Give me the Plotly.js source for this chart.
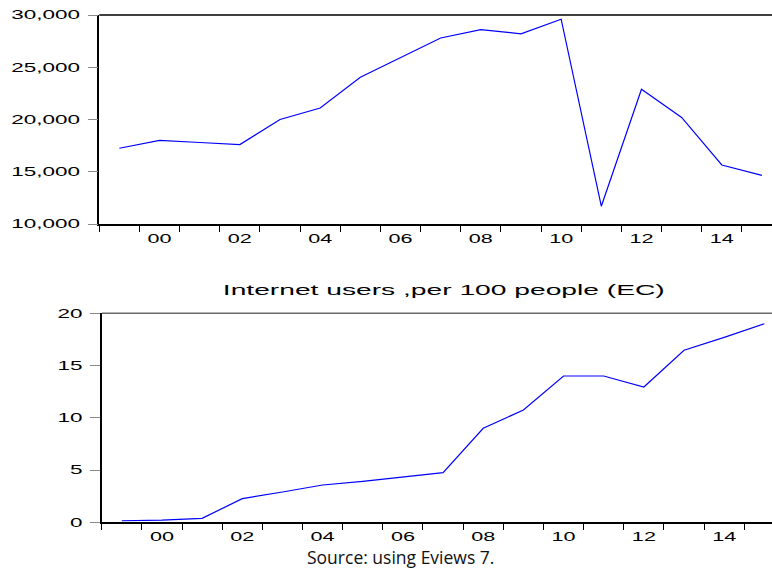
<!DOCTYPE html>
<html>
<head>
<meta charset="utf-8">
<script src="https://cdn.plot.ly/plotly-3.0.1.min.js"></script>
<style>
  html, body { margin: 0; padding: 0; background: #ffffff; }
  #chart { width: 772px; height: 568px; }
</style>
</head>
<body>
<div id="chart"></div>
<script>
// ---- data ----
var years = [1999, 2000, 2001, 2002, 2003, 2004, 2005, 2006, 2007, 2008, 2009, 2010, 2011, 2012, 2013, 2014, 2015];
var topSeries = [17250, 18000, 17800, 17600, 20000, 21100, 24050, 25900, 27800, 28600, 28200, 29600, 11700, 22900, 20200, 15650, 14650];
var internetUsers = [0.15, 0.2, 0.38, 2.26, 2.9, 3.57, 3.92, 4.3, 4.75, 9.0, 10.75, 14.0, 14.0, 12.95, 16.46, 17.7, 19.0];
var xTickYears = [2000, 2002, 2004, 2006, 2008, 2010, 2012, 2014];
var xTickLabels = ['00', '02', '04', '06', '08', '10', '12', '14'];
var topYTicks = [10000, 15000, 20000, 25000, 30000];
var bottomYTicks = [0, 5, 10, 15, 20];
var bottomTitle = 'Internet users ,per 100 people (EC)';
var sourceNote = 'Source: using Eviews 7.';

// year boundaries for the small tick marks
var boundaries = [years[0] - 0.5].concat(years.map(function (y) { return y + 0.5; }));

var W = 772, H = 568;
var tickFont = { family: 'Liberation Sans, Arial, sans-serif', size: 12.5, color: '#000000' };

function xAxisDef(domainLeft, rangeEnd, anchor) {
  return {
    domain: [domainLeft / W, 1],
    anchor: anchor,
    range: [years[0] - 0.5, rangeEnd],
    tickmode: 'array',
    tickvals: xTickYears,
    ticktext: xTickLabels,
    ticks: '',
    tickfont: { family: tickFont.family, size: 12, color: '#000000' },
    ticklabelstandoff: 3,
    showline: true,
    linecolor: '#000000',
    linewidth: 1.5,
    showgrid: false,
    zeroline: false,
    minor: {
      tickmode: 'array',
      tickvals: boundaries,
      ticks: 'outside',
      ticklen: 6,
      tickwidth: 1.2,
      tickcolor: '#000000',
      showgrid: false
    }
  };
}

function yAxisDef(top, bottom, range, tickvals, anchor, fmt) {
  return {
    domain: [1 - bottom / H, 1 - top / H],
    anchor: anchor,
    range: range,
    tickmode: 'array',
    tickvals: tickvals,
    tickformat: fmt,
    ticks: 'outside',
    ticklen: 10,
    tickwidth: 1.2,
    tickcolor: '#8a8a8a',
    tickfont: tickFont,
    ticklabelstandoff: 5,
    showline: true,
    linecolor: '#000000',
    linewidth: 1.5,
    showgrid: false,
    zeroline: false
  };
}

var data = [
  {
    x: years, y: topSeries, type: 'scatter', mode: 'lines',
    xaxis: 'x', yaxis: 'y',
    line: { color: '#0000ff', width: 1.2 },
    hoverinfo: 'x+y'
  },
  {
    x: years, y: internetUsers, type: 'scatter', mode: 'lines',
    xaxis: 'x2', yaxis: 'y2',
    line: { color: '#0000ff', width: 1.2 },
    hoverinfo: 'x+y'
  }
];

var layout = {
  width: W, height: H,
  autosize: false,
  margin: { l: 0, r: 0, t: 0, b: 0, pad: 0 },
  paper_bgcolor: '#ffffff',
  plot_bgcolor: '#ffffff',
  showlegend: false,
  separators: '.,',
  title: {
    text: bottomTitle,
    x: 443.8 / W, xref: 'paper', xanchor: 'center',
    y: 1 - 289.5 / H, yref: 'paper', yanchor: 'middle',
    font: { family: 'Liberation Sans, Arial, sans-serif', size: 15, color: '#000000' }
  },
  xaxis: xAxisDef(99.3, 2015.25, 'y'),
  yaxis: yAxisDef(15, 224, [10000, 30000], topYTicks, 'x', ','),
  xaxis2: xAxisDef(101.7, 2015.19, 'y2'),
  yaxis2: yAxisDef(313.3, 522.3, [0, 20], bottomYTicks, 'x2', 'd'),
  shapes: [
    { type: 'line', xref: 'x domain', yref: 'y domain', x0: 0, x1: 1, y0: 1, y1: 1,
      line: { color: '#000000', width: 1.5 } },
    { type: 'line', xref: 'x2 domain', yref: 'y2 domain', x0: 0, x1: 1, y0: 1, y1: 1,
      line: { color: '#6a6a6a', width: 1.5 } }
  ],
  annotations: [
    {
      text: sourceNote, showarrow: false,
      xref: 'paper', yref: 'paper',
      x: 401 / W, y: 1 - 557 / H, xanchor: 'center', yanchor: 'middle',
      font: { family: 'Open Sans, Noto Sans, sans-serif', size: 17.5, color: '#111111' }
    }
  ]
};

// horizontally widen the axis texts (the reference glyphs are stretched)
function stretchText(gd) {
  var groups = [
    ['.xtick text, .x2tick text', 1.8],
    ['.ytick text, .y2tick text', 1.8],
    ['.gtitle', 1.88]
  ];
  groups.forEach(function (g) {
    gd.querySelectorAll(g[0]).forEach(function (t) {
      var tr = t.getAttribute('transform') || '';
      if (tr.indexOf('scale(') >= 0) return;
      var x = parseFloat(t.getAttribute('x')) || 0;
      t.setAttribute('transform', tr + ' translate(' + x + ',0) scale(' + g[1] + ',1) translate(' + (-x) + ',0)');
    });
  });
}

Plotly.newPlot('chart', data, layout, { displayModeBar: false, responsive: false })
  .then(function (gd) {
    stretchText(gd);
    gd.on('plotly_afterplot', function () { stretchText(gd); });
  });
</script>
</body>
</html>
